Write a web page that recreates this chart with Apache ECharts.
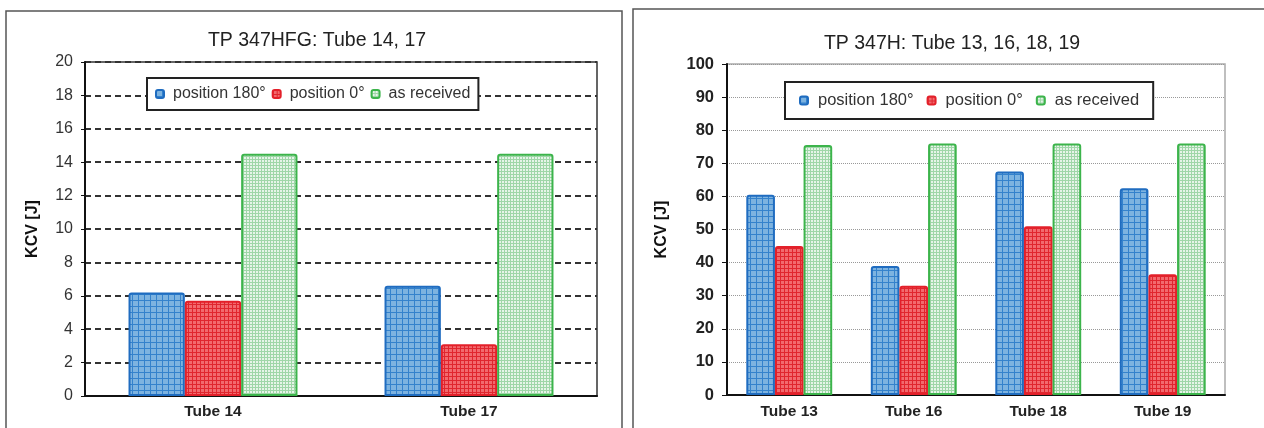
<!DOCTYPE html>
<html><head><meta charset="utf-8">
<script src="https://cdn.jsdelivr.net/npm/echarts@6/dist/echarts.min.js"></script>
<style>html,body{margin:0;padding:0;background:#fff;}#c{width:1264px;height:428px;}</style>
</head><body><div id="c"></div>
<script>
// Left chart data (TP 347HFG)
const catsLeft = ['Tube 14', 'Tube 17'];
const left180 = [6.2, 6.6];
const left0 = [5.7, 3.1];
const leftAsRec = [14.5, 14.5];
// Right chart data (TP 347H)
const catsRight = ['Tube 13', 'Tube 16', 'Tube 18', 'Tube 19'];
const right180 = [60.5, 39, 67.5, 62.5];
const right0 = [45, 33, 51, 36.5];
const rightAsRec = [75.5, 76, 76, 76];
const seriesNames = ['position 180°', 'position 0°', 'as received'];
const titleLeft = 'TP 347HFG: Tube 14, 17';
const titleRight = 'TP 347H: Tube 13, 16, 18, 19';
const yName = 'KCV [J]';

function pat(bg, line, cell) {
  const c = document.createElement('canvas');
  c.width = cell; c.height = cell;
  const g = c.getContext('2d');
  g.fillStyle = bg; g.fillRect(0, 0, cell, cell);
  g.fillStyle = line; g.fillRect(0, 0, cell, 1); g.fillRect(0, 0, 1, cell);
  return { image: c, repeat: 'repeat' };
}
const styles = [
  { fill: pat('#7db3e0', '#3482cc', 6), border: '#1f6cc0' },
  { fill: pat('#f26a6e', '#e0262e', 4), border: '#e3202a' },
  { fill: pat('#e6f4e8', '#9fd6a8', 3), border: '#3cb44b' }
];

const font = 'Liberation Sans, Arial, sans-serif';
const chart = echarts.init(document.getElementById('c'), null, { renderer: 'canvas' });

function mkSeries(vals, idx, axisIdx, gap) {
  return {
    type: 'bar', name: seriesNames[idx], data: vals,
    xAxisIndex: axisIdx, yAxisIndex: axisIdx,
    barGap: '0%', barCategoryGap: gap,
    itemStyle: { color: styles[idx].fill, borderColor: styles[idx].border, borderWidth: 2, borderRadius: [2, 2, 0, 0] },
    emphasis: { disabled: true }
  };
}

const option = {
  animation: false,
  backgroundColor: '#fff',
  graphic: [
    { type: 'rect', shape: { x: 6, y: 11, width: 616, height: 430 }, style: { fill: 'none', stroke: '#555', lineWidth: 1.5 }, silent: true },
    { type: 'rect', shape: { x: 633, y: 9, width: 660, height: 430 }, style: { fill: 'none', stroke: '#555', lineWidth: 1.5 }, silent: true }
  ],
  title: [
    { text: titleLeft, left: 312, top: 26, textAlign: 'center', textStyle: { fontFamily: font, fontSize: 19.5, fontWeight: 'normal', color: '#222' } },
    { text: titleRight, left: 947, top: 29, textAlign: 'center', textStyle: { fontFamily: font, fontSize: 19.5, fontWeight: 'normal', color: '#222' } }
  ],
  legend: [
    { data: seriesNames, left: 147, top: 78, padding: [8, 8, 8, 8], itemGap: 6,
      itemWidth: 8, itemHeight: 8, icon: 'roundRect', backgroundColor: '#fff', borderColor: '#222', borderWidth: 2,
      textStyle: { fontFamily: font, fontSize: 16, color: '#333', padding: [0, 0, 0, 4] } },
    { data: seriesNames, left: 785, top: 82, padding: [10, 14, 10, 14], itemGap: 13,
      itemWidth: 8, itemHeight: 8, icon: 'roundRect', backgroundColor: '#fff', borderColor: '#222', borderWidth: 2,
      textStyle: { fontFamily: font, fontSize: 16.5, color: '#333', padding: [0, 0, 0, 5] } }
  ],
  grid: [
    { left: 85, right: 667, top: 62, bottom: 32, show: true, borderColor: '#333', borderWidth: 1.5, backgroundColor: 'transparent' },
    { left: 727, right: 39, top: 64, bottom: 33, show: true, borderColor: '#aaa', borderWidth: 1.5, backgroundColor: 'transparent' }
  ],
  xAxis: [
    { type: 'category', gridIndex: 0, data: catsLeft,
      axisLine: { lineStyle: { color: '#111', width: 2 } }, axisTick: { show: false },
      axisLabel: { fontFamily: font, fontSize: 15.5, fontWeight: 'bold', color: '#222', margin: 8 } },
    { type: 'category', gridIndex: 1, data: catsRight,
      axisLine: { lineStyle: { color: '#111', width: 2 } }, axisTick: { show: false },
      axisLabel: { fontFamily: font, fontSize: 15.5, fontWeight: 'bold', color: '#222', margin: 9 } }
  ],
  yAxis: [
    { type: 'value', gridIndex: 0, min: 0, max: 20, interval: 2,
      name: yName, nameLocation: 'middle', nameGap: 44, nameRotate: 90,
      nameTextStyle: { fontFamily: font, fontSize: 16, fontWeight: 'bold', color: '#111' },
      axisLine: { show: true, lineStyle: { color: '#111', width: 2 } },
      axisTick: { show: true, length: 4, lineStyle: { color: '#111' } },
      axisLabel: { fontFamily: font, fontSize: 16, color: '#333', margin: 12 },
      splitLine: { show: true, lineStyle: { color: '#333', width: 2, type: [6, 4] } } },
    { type: 'value', gridIndex: 1, min: 0, max: 100, interval: 10,
      name: yName, nameLocation: 'middle', nameGap: 57, nameRotate: 90,
      nameTextStyle: { fontFamily: font, fontSize: 16, fontWeight: 'bold', color: '#111' },
      axisLine: { show: true, lineStyle: { color: '#111', width: 2 } },
      axisTick: { show: true, length: 5, lineStyle: { color: '#111' } },
      axisLabel: { fontFamily: font, fontSize: 16.5, fontWeight: 'bold', color: '#222', margin: 13 },
      splitLine: { show: true, lineStyle: { color: '#999', width: 1, type: [1, 1] } } }
  ],
  series: [
    mkSeries(left180, 0, 0, '34%'),
    mkSeries(left0, 1, 0, '34%'),
    mkSeries(leftAsRec, 2, 0, '34%'),
    mkSeries(right180, 0, 1, '31%'),
    mkSeries(right0, 1, 1, '31%'),
    mkSeries(rightAsRec, 2, 1, '31%')
  ]
};
chart.setOption(option);
</script></body></html>
